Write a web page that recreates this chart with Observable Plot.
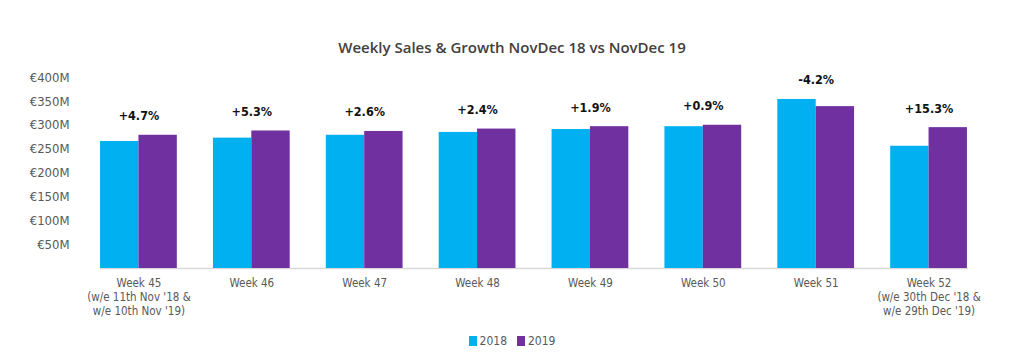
<!DOCTYPE html>
<html>
<head>
<meta charset="utf-8">
<script src="https://cdn.jsdelivr.net/npm/d3@7"></script>
<script src="https://cdn.jsdelivr.net/npm/@observablehq/plot@0.6"></script>
<style>
  html, body { margin: 0; padding: 0; background: #fff; }
  body { width: 1024px; height: 356px; overflow: hidden; font-family: "Liberation Sans Narrow", "DejaVu Sans Condensed", sans-serif; }
  #title { height: 60px; box-sizing: border-box; padding-top: 37px; text-align: center; font-family: "Open Sans", sans-serif; font-weight: 600; font-size: 15px; line-height: 20px; color: #404040; }
  #legend { display: flex; justify-content: center; align-items: center; gap: 10px; height: 31px; font-size: 12px; color: #595959; }
  #legend .item { display: flex; align-items: center; gap: 3px; }
  #legend .sw { width: 8px; height: 10px; display: inline-block; }
</style>
</head>
<body>
<div id="title">Weekly Sales &amp; Growth NovDec 18 vs NovDec 19</div>
<div id="chart"></div>
<div id="legend"></div>
<script>
const weeks = [
  "Week 45\n(w/e 11th Nov '18 &\nw/e 10th Nov '19)",
  "Week 46", "Week 47", "Week 48", "Week 49", "Week 50", "Week 51",
  "Week 52\n(w/e 30th Dec '18 &\nw/e 29th Dec '19)"
];
const years = ["2018", "2019"];
const colors = ["#00B0F0", "#7030A0"];
const sales2018 = [266, 273, 279, 285, 291, 297, 354, 256];
const sales2019 = [279, 288, 287, 292, 297, 300, 339, 295];
const growthLabels = ["+4.7%", "+5.3%", "+2.6%", "+2.4%", "+1.9%", "+0.9%", "-4.2%", "+15.3%"];
const yTicks = [50, 100, 150, 200, 250, 300, 350, 400];

const rows = [];
weeks.forEach((w, i) => {
  rows.push({week: w, year: years[0], value: sales2018[i]});
  rows.push({week: w, year: years[1], value: sales2019[i]});
});
const growthRows = weeks.map((w, i) => ({week: w, top: Math.max(sales2018[i], sales2019[i]), label: growthLabels[i]}));

const chart = Plot.plot({
  width: 1024,
  height: 265,
  marginLeft: 82,
  marginRight: 39,
  marginTop: 17,
  marginBottom: 57,
  style: {fontFamily: "'Liberation Sans Narrow', 'DejaVu Sans Condensed', sans-serif", fontSize: "12px", color: "#595959", background: "#fff"},
  fx: {domain: weeks, paddingInner: 0.32, paddingOuter: 0.16, round: false, label: null},
  x: {domain: years, padding: 0, round: false, axis: null},
  y: {domain: [0, 400], label: null},
  color: {domain: years, range: colors},
  marks: [
    Plot.axisY({ticks: yTicks, tickFormat: d => `€${d}M`, tickSize: 0, tickPadding: 31, label: null, fontSize: 13}),
    Plot.axisFx({anchor: "bottom", tickSize: 0, tickPadding: 8, lineHeight: 1.25, fontSize: 11.5, label: null}),
    Plot.frame({anchor: "bottom", facet: "super", stroke: "#d9d9d9", strokeWidth: 1.5}),
    Plot.barY(rows, {fx: "week", x: "year", y: "value", fill: "year"}),
    Plot.text(growthRows, {fx: "week", y: "top", text: "label", dy: -19, fontWeight: "bold", fontSize: 12.5, fill: "#111"})
  ]
});
document.getElementById("chart").appendChild(chart);

const legend = document.getElementById("legend");
years.forEach((y, i) => {
  const item = document.createElement("span");
  item.className = "item";
  const sw = document.createElement("span");
  sw.className = "sw";
  sw.style.background = colors[i];
  item.appendChild(sw);
  item.appendChild(document.createTextNode(y));
  legend.appendChild(item);
});
</script>
</body>
</html>
